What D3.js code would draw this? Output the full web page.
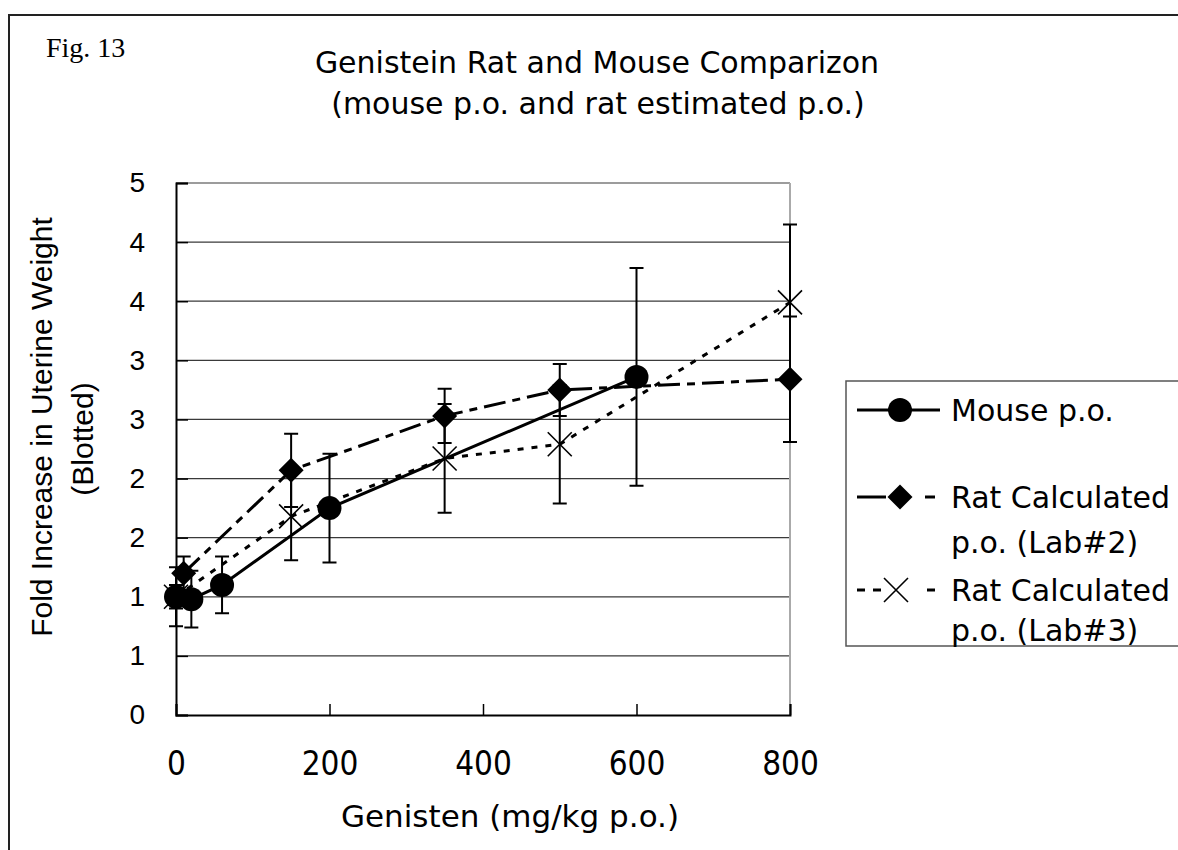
<!DOCTYPE html>
<html>
<head>
<meta charset="utf-8">
<script src="https://cdn.jsdelivr.net/npm/d3@7"></script>
<style>
  body { margin: 0; background: #fff; }
  svg { display: block; }
</style>
</head>
<body>
<div class="chart"></div>
<script>
// values
const doseMouse = [0, 20, 60, 200, 600];
const foldMouse = [1.0, 0.98, 1.1, 1.75, 2.86];
const errMouse = [0.25, 0.24, 0.24, 0.46, 0.92];

const doseLab2 = [10, 150, 350, 500, 800];
const foldLab2 = [1.2, 2.07, 2.53, 2.75, 2.84];
const errLab2 = [0.14, 0.31, 0.23, 0.22, 0.53];

const doseLab3 = [0, 150, 350, 500, 800];
const foldLab3 = [1.0, 1.68, 2.17, 2.29, 3.49];
const errLab3 = [0.1, 0.37, 0.46, 0.5, 0.66];

const xTicks = [0, 200, 400, 600, 800];
const yTicks = [0, 0.5, 1, 1.5, 2, 2.5, 3, 3.5, 4, 4.5];
const seriesNames = ['Mouse p.o.', 'Rat Calculated\np.o. (Lab#2)', 'Rat Calculated\np.o. (Lab#3)'];

const W = 1178, H = 850;
const plot = { left: 176, right: 790, top: 183, bottom: 715 };

const svg = d3.select('.chart').append('svg').attr('width', W).attr('height', H);

// outer frame (only top and left visible in the crop)
svg.append('path').attr('d', `M9,${H + 2}V15H${W + 2}`)
  .attr('fill', 'none').attr('stroke', '#222').attr('stroke-width', 2);

svg.append('text').attr('x', 46).attr('y', 57)
  .attr('font-family', 'Liberation Serif, serif').attr('font-size', 28)
  .text('Fig. 13');

const title = svg.append('text').attr('text-anchor', 'middle')
  .attr('font-family', 'DejaVu Sans, sans-serif').attr('font-size', 30);
title.append('tspan').attr('x', 597).attr('y', 73).text('Genistein Rat and Mouse Comparizon');
title.append('tspan').attr('x', 598).attr('y', 114).text('(mouse p.o. and rat estimated p.o.)');

const x = d3.scaleLinear().domain([0, 800]).range([plot.left, plot.right]);
const y = d3.scaleLinear().domain([0, 4.5]).range([plot.bottom, plot.top]);

// gridlines
svg.append('g').selectAll('line').data(yTicks.slice(1)).join('line')
  .attr('x1', plot.left).attr('x2', plot.right)
  .attr('y1', (d) => y(d)).attr('y2', (d) => y(d))
  .attr('stroke', '#3a3a3a').attr('stroke-width', 1.2);

// right border of plot area
svg.append('line').attr('x1', plot.right).attr('x2', plot.right)
  .attr('y1', plot.top).attr('y2', plot.bottom)
  .attr('stroke', '#aaa').attr('stroke-width', 2);

const yAxis = svg.append('g').attr('transform', `translate(${plot.left},0)`)
  .call(d3.axisLeft(y).tickValues(yTicks).tickSize(-12).tickPadding(31)
    .tickFormat((d) => Math.floor(d + 0.5)));
yAxis.selectAll('text').attr('font-family', 'Liberation Sans, Arial, sans-serif')
  .attr('font-size', 28).attr('fill', '#000');

const xAxis = svg.append('g').attr('transform', `translate(0,${plot.bottom})`)
  .call(d3.axisBottom(x).tickValues(xTicks).tickSize(-11).tickPadding(37));
xAxis.selectAll('text').attr('font-family', 'Liberation Sans Narrow, DejaVu Sans Condensed, sans-serif')
  .attr('font-size', 33).attr('fill', '#000');

[yAxis, xAxis].forEach((g) => {
  g.select('.domain').attr('stroke', '#000').attr('stroke-width', 2);
  g.selectAll('.tick line').attr('stroke', '#000').attr('stroke-width', 1.5);
});

// axis titles
svg.append('text').attr('x', 510).attr('y', 827).attr('text-anchor', 'middle')
  .attr('font-family', 'DejaVu Sans, sans-serif').attr('font-size', 31)
  .text('Genisten (mg/kg p.o.)');

const yTitle = svg.append('text').attr('transform', 'translate(0,427) rotate(-90)')
  .attr('text-anchor', 'middle')
  .attr('font-family', 'Liberation Sans, Arial, sans-serif').attr('font-size', 30);
yTitle.append('tspan').attr('x', 0).attr('y', 52).text('Fold Increase in Uterine Weight');
yTitle.append('tspan').attr('x', -12).attr('y', 93).text('(Blotted)');

// series
const series = [
  { dose: doseMouse, fold: foldMouse, err: errMouse, dash: null, marker: 'circle' },
  { dose: doseLab2, fold: foldLab2, err: errLab2, dash: '22,7,8,7', marker: 'diamond' },
  { dose: doseLab3, fold: foldLab3, err: errLab3, dash: '6,8', marker: 'cross' }
];

const line = d3.line().x((d) => x(d[0])).y((d) => y(d[1]));

function drawMarker(g, type, cx, cy) {
  if (type === 'circle') {
    g.append('circle').attr('cx', cx).attr('cy', cy).attr('r', 12).attr('fill', '#000');
  } else if (type === 'diamond') {
    g.append('path').attr('d', `M${cx},${cy - 12.5}L${cx + 12.5},${cy}L${cx},${cy + 12.5}L${cx - 12.5},${cy}Z`)
      .attr('fill', '#000');
  } else {
    g.append('path').attr('d', `M${cx - 12},${cy - 12}L${cx + 12},${cy + 12}M${cx - 12},${cy + 12}L${cx + 12},${cy - 12}`)
      .attr('stroke', '#000').attr('stroke-width', 1.6).attr('fill', 'none');
  }
}

series.forEach((s) => {
  const pts = s.dose.map((d, i) => [d, s.fold[i], s.err[i]]);
  const g = svg.append('g');
  g.append('path').datum(pts).attr('d', line)
    .attr('fill', 'none').attr('stroke', '#000').attr('stroke-width', 3)
    .attr('stroke-dasharray', s.dash);
  // error bars
  g.append('g').selectAll('path').data(pts).join('path')
    .attr('d', (d) => {
      const cx = x(d[0]), t = y(d[1] + d[2]), b = y(d[1] - d[2]);
      return `M${cx},${t}V${b}M${cx - 7},${t}H${cx + 7}M${cx - 7},${b}H${cx + 7}`;
    })
    .attr('stroke', '#000').attr('stroke-width', 2).attr('fill', 'none');
  pts.forEach((d) => drawMarker(g, s.marker, x(d[0]), y(d[1])));
});

// legend
const lg = svg.append('g');
lg.append('rect').attr('x', 846).attr('y', 381).attr('width', 400).attr('height', 265)
  .attr('fill', '#fff').attr('stroke', '#555').attr('stroke-width', 1.5);

const legendRows = [
  { y: 410, textY: [421] },
  { y: 497, textY: [508, 553] },
  { y: 590, textY: [601, 641] }
];
const legendLines = [
  [[857, 940]],
  [[857, 886], [925, 935]],
  [[857, 865], [873, 881], [927, 935]]
];

legendRows.forEach((r, i) => {
  legendLines[i].forEach((seg) => {
    lg.append('line').attr('x1', seg[0]).attr('x2', seg[1]).attr('y1', r.y).attr('y2', r.y)
      .attr('stroke', '#000').attr('stroke-width', 3);
  });
  drawMarker(lg, series[i].marker, i === 2 ? 896 : 900, r.y);
  const t = lg.append('text').attr('font-family', 'DejaVu Sans, sans-serif').attr('font-size', 30);
  seriesNames[i].split('\n').forEach((s, k) => {
    t.append('tspan').attr('x', 951).attr('y', r.textY[k]).text(s);
  });
});
</script>
</body>
</html>
